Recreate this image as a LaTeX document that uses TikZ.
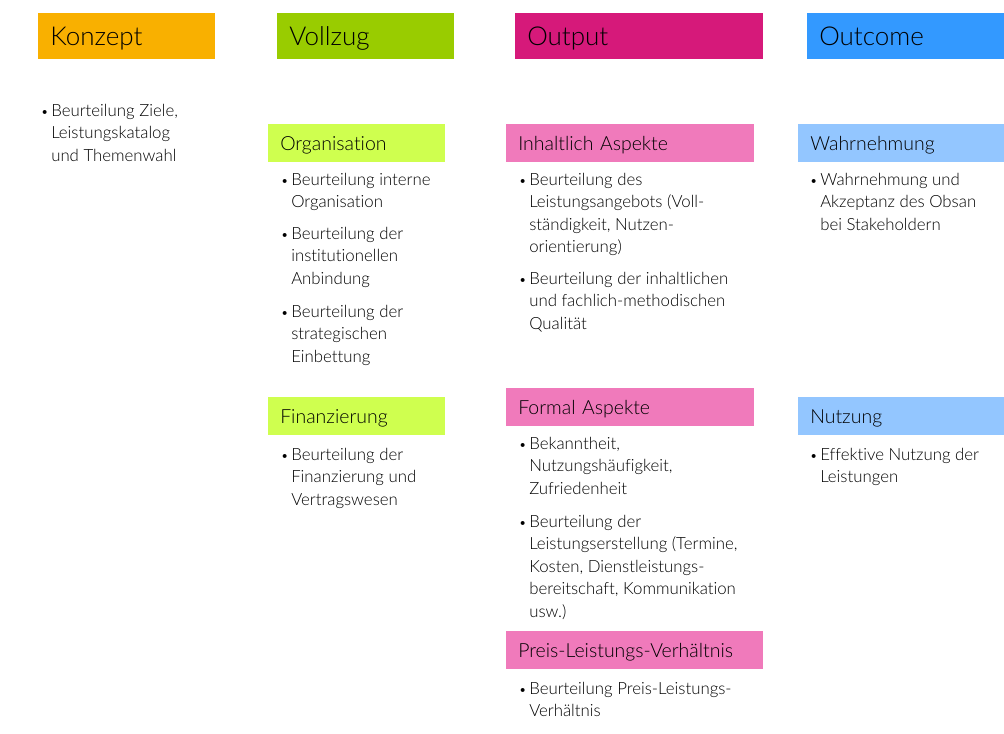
\documentclass[tikz,border=0pt]{standalone}
\usepackage{fontspec}
\setmainfont{Lato}[UprightFont=* Light, Ligatures=NoCommon]
\usepackage{tikz}
\usetikzlibrary{positioning}

\definecolor{konzeptfarbe}{HTML}{F9B000}
\definecolor{vollzugfarbe}{HTML}{99CC00}
\definecolor{outputfarbe}{HTML}{D6197A}
\definecolor{outcomefarbe}{HTML}{3399FF}
\definecolor{gruenhell}{HTML}{CFFF4F}
\definecolor{rosa}{HTML}{F07ABB}
\definecolor{blauhell}{HTML}{93C6FF}

\newcommand{\punkt}[1]{\llap{\scalebox{0.8}{\textbullet}\hspace{2pt}}\begin{tabular}[t]{@{}l@{}}#1\end{tabular}}

\begin{document}
\begin{tikzpicture}
	[x=0.75pt, y=-0.75pt,
	kopf/.style={anchor=north west, inner xsep=9pt, inner ysep=0pt,
		text height=24pt, text depth=10.5pt, align=left,
		font=\fontsize{19.5}{21}\selectfont},
	unterkopf/.style={anchor=north west, inner xsep=9pt, inner ysep=0pt,
		text height=19.9pt, text depth=8.1pt, align=left,
		font=\fontsize{14.6}{16}\selectfont},
	eintrag/.style={anchor=base west, inner sep=0pt,
		font=\fontsize{12.6}{16.875}\selectfont}]
	\useasboundingbox (0,0) rectangle (1004,733);
	% Spaltenkoepfe
	\node[kopf, fill=konzeptfarbe, text width=114.75pt] (konzept) at (38,13) {Konzept};
	\node[kopf, fill=vollzugfarbe, text width=114.75pt] (vollzug) at (277,13) {Vollzug};
	\node[kopf, fill=outputfarbe, text width=168pt] (output) at (515,13) {Output};
	\node[kopf, fill=outcomefarbe, text width=129.75pt] (outcome) at (807,13) {Outcome};
	% Konzept
	\node[eintrag] (k1) at (51,116) {\punkt{Beurteilung Ziele,\\Leistungskatalog\\und Themenwahl}};
	% Vollzug
	\node[unterkopf, fill=gruenhell, text width=114.75pt] (org) at (268,124) {Organisation};
	\node[eintrag] (o1) at (291,185) {\punkt{Beurteilung interne\\Organisation}};
	\node[eintrag] (o2) at (291,239) {\punkt{Beurteilung der\\institutionellen\\Anbindung}};
	\node[eintrag] (o3) at (291,317) {\punkt{Beurteilung der\\strategischen\\Einbettung}};
	\node[unterkopf, fill=gruenhell, text width=114.75pt] (fin) at (268,397) {Finanzierung};
	\node[eintrag] (f1) at (291,460) {\punkt{Beurteilung der\\Finanzierung und\\Vertragswesen}};
	% Output
	\node[unterkopf, fill=rosa, text width=168pt] (inhalt) at (506,124) {Inhaltlich Aspekte};
	\node[eintrag] (i1) at (529,185) {\punkt{Beurteilung des\\Leistungsangebots (Voll-\\ständigkeit, Nutzen-\\orientierung)}};
	\node[eintrag] (i2) at (529,284) {\punkt{Beurteilung der inhaltlichen\\und fachlich-methodischen\\Qualität}};
	\node[unterkopf, fill=rosa, text width=168pt] (formal) at (506,388) {Formal Aspekte};
	\node[eintrag] (fa1) at (529,449) {\punkt{Bekanntheit,\\Nutzungshäufigkeit,\\Zufriedenheit}};
	\node[eintrag] (fa2) at (529,527) {\punkt{Beurteilung der\\Leistungserstellung (Termine,\\Kosten, Dienstleistungs-\\bereitschaft, Kommunikation\\usw.)}};
	\node[unterkopf, fill=rosa, text width=174.75pt] (preis) at (506,631) {Preis-Leistungs-Verhältnis};
	\node[eintrag] (p1) at (529,694) {\punkt{Beurteilung Preis-Leistungs-\\Verhältnis}};
	% Outcome
	\node[unterkopf, fill=blauhell, text width=136.5pt] (wahr) at (798,124) {Wahrnehmung};
	\node[eintrag] (w1) at (820,185) {\punkt{Wahrnehmung und\\Akzeptanz des Obsan\\bei Stakeholdern}};
	\node[unterkopf, fill=blauhell, text width=136.5pt] (nutzung) at (798,397) {Nutzung};
	\node[eintrag] (n1) at (820,460) {\punkt{Effektive Nutzung der\\Leistungen}};
\end{tikzpicture}
\end{document}
